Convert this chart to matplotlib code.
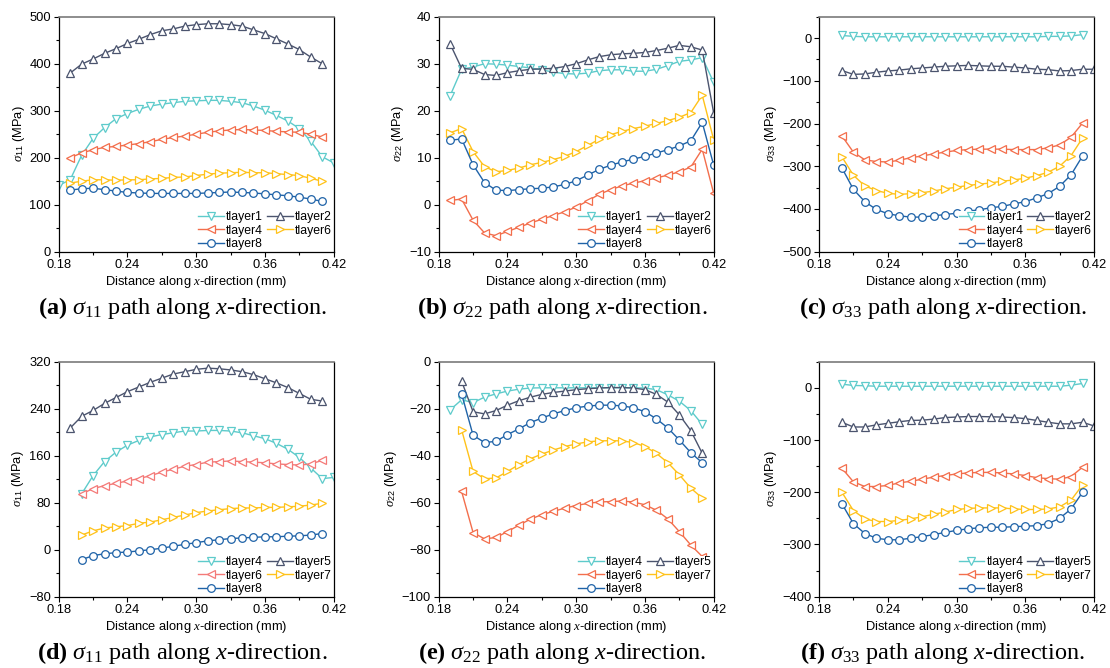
import numpy as np
import matplotlib
matplotlib.use("Agg")
from matplotlib import pyplot as plt
from matplotlib.ticker import MultipleLocator, FormatStrFormatter

plt.rcParams['font.family'] = ['Liberation Sans', 'DejaVu Sans']
plt.rcParams['mathtext.fontset'] = 'custom'
plt.rcParams['mathtext.rm'] = 'Liberation Serif'
plt.rcParams['mathtext.it'] = 'Liberation Serif:italic'
plt.rcParams['mathtext.bf'] = 'Liberation Serif:bold'
plt.rcParams['mathtext.sf'] = 'Liberation Sans'

# x positions along the path (mm)
dist = [0.18, 0.19, 0.20, 0.21, 0.22, 0.23, 0.24, 0.25, 0.26, 0.27, 0.28, 0.29,
        0.30, 0.31, 0.32, 0.33, 0.34, 0.35, 0.36, 0.37, 0.38, 0.39, 0.40, 0.41, 0.42]

# (a) sigma11, top row
a_tlayer1 = [141, 153, 205, 241, 264, 283, 294, 303, 310, 314, 317, 320, 321, 322, 322,
             320, 317, 310, 301, 290, 278, 262, 235, 202, 189]
a_tlayer2 = [380, 399, 410, 422, 432, 443, 452, 462, 470, 474, 480, 483, 485, 485, 483,
             480, 472, 464, 453, 442, 430, 414, 400]
a_tlayer4 = [200, 210, 217, 222, 224, 227, 230, 234, 239, 243, 246, 250, 254, 257, 259,
             260, 259, 258, 256, 255, 254, 250, 244]
a_tlayer6 = [146, 150, 153, 153, 152, 153, 153, 155, 156, 158, 159, 162, 165, 167, 168,
             169, 168, 168, 166, 164, 162, 156, 150]
a_tlayer8 = [131, 134, 135, 132, 129, 126, 125, 124, 124, 124, 124, 124, 125, 126, 127,
             126, 125, 123, 121, 119, 116, 112, 107]

# (b) sigma22, top row
b_tlayer1 = [23.2, 28.8, 29.3, 30.0, 29.9, 29.7, 29.4, 29.1, 28.7, 28.2, 27.9, 27.8,
             28.0, 28.5, 28.7, 28.7, 28.4, 28.4, 28.8, 29.6, 30.5, 30.8, 31.3, 26.0]
b_tlayer2 = [34.2, 29.0, 28.8, 27.7, 27.5, 28.1, 28.5, 28.8, 28.9, 29.0, 29.4, 30.0,
             30.8, 31.5, 31.9, 32.1, 32.2, 32.4, 32.8, 33.3, 33.9, 33.6, 32.9, 19.5]
b_tlayer4 = [0.9, 1.2, -3.3, -6.0, -6.6, -5.7, -4.8, -3.9, -3.1, -2.3, -1.5, -0.5,
             0.8, 2.2, 3.2, 4.0, 4.6, 5.1, 5.7, 6.3, 7.0, 8.0, 11.8, 2.4]
b_tlayer6 = [15.3, 16.2, 11.3, 8.1, 7.0, 7.3, 7.8, 8.5, 9.0, 9.6, 10.3, 11.3,
             12.6, 13.9, 14.9, 15.6, 16.2, 16.7, 17.3, 17.9, 18.6, 19.6, 23.3, 13.8]
b_tlayer8 = [13.7, 14.0, 8.5, 4.7, 3.1, 3.0, 3.2, 3.4, 3.5, 3.8, 4.3, 5.1,
             6.3, 7.5, 8.4, 9.1, 9.7, 10.3, 11.0, 11.7, 12.5, 13.6, 17.5, 8.4]

# (c) sigma33, top row
c_tlayer1 = [6, 4, 3, 3, 3, 3, 3, 3, 3, 3, 3, 3, 3, 3, 3, 3, 3, 3, 4, 4, 5, 8]
c_tlayer2 = [-76, -85, -84, -80, -77, -75, -72, -70, -68, -66, -65, -64, -65, -66, -66,
             -68, -70, -73, -74, -77, -76, -73, -73]
c_tlayer4 = [-229, -267, -285, -289, -290, -286, -280, -276, -271, -267, -263, -261,
             -260, -260, -260, -261, -261, -261, -257, -250, -232, -199]
c_tlayer6 = [-278, -321, -346, -357, -363, -366, -364, -362, -358, -353, -349, -345,
             -342, -339, -335, -332, -328, -322, -314, -300, -275, -234]
c_tlayer8 = [-304, -354, -383, -401, -411, -416, -419, -419, -416, -413, -410, -405,
             -402, -397, -394, -388, -383, -374, -364, -347, -320, -276]

# (d) sigma11, bottom row
d_tlayer4 = [95, 126, 150, 166, 178, 186, 192, 196, 199, 202, 202, 203, 203, 202, 199,
             194, 189, 181, 171, 157, 139, 121, 123]
d_tlayer5 = [207, 227, 237, 249, 259, 269, 277, 285, 292, 299, 303, 307, 309, 308, 306,
             303, 298, 291, 284, 276, 266, 256, 253]
d_tlayer6 = [95, 104, 109, 113, 117, 121, 126, 132, 137, 142, 145, 149, 150, 151, 150,
             149, 148, 146, 145, 144, 146, 152]
d_tlayer7 = [25, 32, 37, 39, 41, 45, 47, 51, 55, 59, 63, 66, 68, 70, 71, 71, 72, 72, 73,
             74, 76, 79]
d_tlayer8 = [-17, -10, -7, -5, -4, -2, 0, 2.5, 6, 9, 12, 15, 17, 19, 20, 21, 22, 22, 23,
             23.5, 25, 27.5]

# (e) sigma22, bottom row
e_tlayer4 = [-20.5, -16.2, -17.4, -15.1, -13.7, -12.5, -11.7, -11.2, -11.1, -11.1, -11.1,
             -11.1, -11.1, -11.1, -11.1, -11.1, -11.1, -11.2, -11.9, -14.1, -16.8, -20.8, -26.7]
e_tlayer5 = [-8.3, -21.3, -22.2, -20.8, -18.5, -16.6, -15.1, -13.9, -13.1, -12.5, -11.9,
             -11.5, -11.2, -11.0, -11.0, -11.2, -11.9, -13.9, -17.2, -22.6, -29.3, -39.0]
e_tlayer6 = [-55.2, -72.7, -75.4, -74.8, -72.3, -69.6, -67.0, -65.1, -63.7, -62.3, -61.2,
             -60.3, -59.7, -59.5, -59.3, -59.7, -60.9, -63.2, -66.9, -72.3, -78.0, -82.9]
e_tlayer7 = [-29.0, -46.7, -49.8, -49.5, -46.7, -43.8, -41.3, -39.3, -37.6, -36.1, -35.0,
             -34.1, -33.7, -33.6, -33.7, -34.4, -36.1, -39.0, -43.0, -48.1, -53.8, -58.0]
e_tlayer8 = [-13.7, -31.3, -34.4, -33.9, -31.0, -28.6, -25.9, -24.0, -22.2, -20.8, -19.6,
             -18.9, -18.5, -18.5, -18.8, -19.6, -21.3, -24.3, -28.2, -33.3, -38.7, -43.0]

# (f) sigma33, bottom row
f_tlayer4 = [7, 4.5, 4, 3, 3, 3, 3, 3, 3, 3, 3, 3, 3, 3, 3, 3, 3, 3, 3, 3, 5, 8.3]
f_tlayer5 = [-66, -75, -75, -71, -68, -65, -62.5, -62, -60, -57, -56, -55, -55, -55.5,
             -56, -57, -59, -62.5, -66, -69, -69, -66, -73]
f_tlayer6 = [-154, -180, -189, -189, -187, -182, -179, -175, -171, -168, -165, -163,
             -162, -162, -163, -165, -168, -172, -174, -175, -170, -152]
f_tlayer7 = [-200, -235, -251, -256, -256, -254, -251, -247, -242, -238, -233, -231,
             -230, -230, -230, -232, -233, -233, -232, -228, -215, -186]
f_tlayer8 = [-222, -260, -279, -288, -291, -291, -288, -285, -281, -277, -273, -270,
             -268, -267, -267, -266, -265, -264, -260, -250, -232, -200]

# colours and markers for the five legend slots
cyan, slate, orange, yellow, blue = '#5ECBCB', '#4B546E', '#F36E4C', '#FFC21A', '#1F63A8'
pink = '#F47A78'
markers = ['v', '^', '<', '>', 'o']


def series(vals, x0):
    i0 = dist.index(x0)
    return dist[i0:i0 + len(vals)], vals


# panel definitions: (top-left in px, tag, component, ylim, major, minor, lines)
panels = [
    ((58.7, 16.7), 'a', '11', (0, 500), 100, 50,
     [('tlayer1', a_tlayer1, 0.18, cyan), ('tlayer2', a_tlayer2, 0.19, slate),
      ('tlayer4', a_tlayer4, 0.19, orange), ('tlayer6', a_tlayer6, 0.19, yellow),
      ('tlayer8', a_tlayer8, 0.19, blue)]),
    ((438.7, 16.7), 'b', '22', (-10, 40), 10, 5,
     [('tlayer1', b_tlayer1, 0.19, cyan), ('tlayer2', b_tlayer2, 0.19, slate),
      ('tlayer4', b_tlayer4, 0.19, orange), ('tlayer6', b_tlayer6, 0.19, yellow),
      ('tlayer8', b_tlayer8, 0.19, blue)]),
    ((819, 16.7), 'c', '33', (-500, 50), 100, 50,
     [('tlayer1', c_tlayer1, 0.20, cyan), ('tlayer2', c_tlayer2, 0.20, slate),
      ('tlayer4', c_tlayer4, 0.20, orange), ('tlayer6', c_tlayer6, 0.20, yellow),
      ('tlayer8', c_tlayer8, 0.20, blue)]),
    ((58.7, 361.7), 'd', '11', (-80, 320), 80, 40,
     [('tlayer4', d_tlayer4, 0.20, cyan), ('tlayer5', d_tlayer5, 0.19, slate),
      ('tlayer6', d_tlayer6, 0.20, pink), ('tlayer7', d_tlayer7, 0.20, yellow),
      ('tlayer8', d_tlayer8, 0.20, blue)]),
    ((438.7, 361.7), 'e', '22', (-100, 0), 20, 10,
     [('tlayer4', e_tlayer4, 0.19, cyan), ('tlayer5', e_tlayer5, 0.20, slate),
      ('tlayer6', e_tlayer6, 0.20, orange), ('tlayer7', e_tlayer7, 0.20, yellow),
      ('tlayer8', e_tlayer8, 0.20, blue)]),
    ((819, 361.7), 'f', '33', (-400, 50), 100, 50,
     [('tlayer4', f_tlayer4, 0.20, cyan), ('tlayer5', f_tlayer5, 0.20, slate),
      ('tlayer6', f_tlayer6, 0.20, orange), ('tlayer7', f_tlayer7, 0.20, yellow),
      ('tlayer8', f_tlayer8, 0.20, blue)]),
]

W, H = 1110, 668
AW, AH = 275, 235
fig = plt.figure(figsize=(W / 100, H / 100), dpi=100)

for (px, py), tag, comp, ylim, major, minor, lines in panels:
    ax = fig.add_axes([px / W, 1 - (py + AH) / H, AW / W, AH / H])
    handles = []
    for (name, vals, x0, col), mk in zip(lines, markers):
        xs, ys = series(vals, x0)
        h, = ax.plot(xs, ys, color=col, lw=1.0, marker=mk, ms=5.5, mew=0.9,
                     mfc='white', mec=col, label=name)
        handles.append(h)
    ax.set_xlim(0.18, 0.42)
    ax.set_ylim(*ylim)
    ax.xaxis.set_major_locator(MultipleLocator(0.06))
    ax.xaxis.set_minor_locator(MultipleLocator(0.03))
    ax.yaxis.set_major_locator(MultipleLocator(major))
    ax.yaxis.set_minor_locator(MultipleLocator(minor))
    ax.xaxis.set_major_formatter(FormatStrFormatter('%.2f'))
    ax.tick_params(which='both', direction='out', labelsize=9.3, top=False, right=False, pad=2)
    ax.tick_params(which='major', length=3.5, width=0.8)
    ax.tick_params(which='minor', length=2, width=0.8)
    for s in ['left', 'bottom', 'right']:
        ax.spines[s].set_linewidth(0.9)
        ax.spines[s].set_color('black')
    ax.spines['top'].set_color('#7a7a7a')
    ax.spines['top'].set_linewidth(1.2)
    ax.set_xlabel(r'Distance along $x$-direction (mm)', fontsize=9.3, labelpad=2)
    ax.set_ylabel(r'$\sigma_{\mathsf{' + comp + r'}}$ (MPa)', fontsize=9.3, labelpad=2)
    order = [0, 2, 4, 1, 3]
    ax.legend([handles[i] for i in order], [handles[i].get_label() for i in order],
              ncol=2, loc='lower right', fontsize=8.8, frameon=True, framealpha=1,
              edgecolor='none', facecolor='white', fancybox=False,
              handlelength=2.1, handletextpad=0.2, columnspacing=0.3,
              labelspacing=0.1, borderpad=0.05, borderaxespad=0.1)
    cx = (px + AW / 2 - 14) / W
    cy = 1 - (py + 291) / H
    sym = r'\sigma_{' + comp + '}'
    fig.text(cx, cy, r'$\mathbf{(' + tag + r')}$ $' + sym + r'$ path along $x$-direction.',
             ha='center', va='center', fontsize=17.5, family='Liberation Serif')

fig.savefig('out.png', dpi=100)
